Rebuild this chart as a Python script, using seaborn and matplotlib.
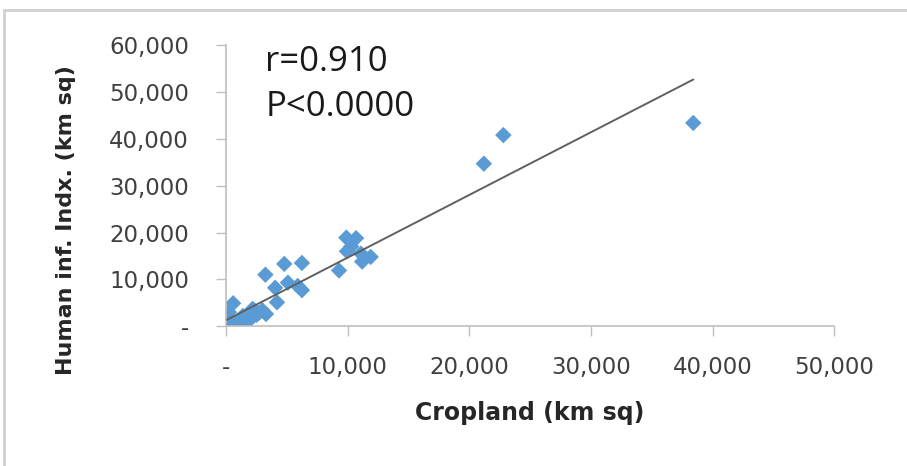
import matplotlib
matplotlib.use("Agg")
import matplotlib.pyplot as plt
import matplotlib.ticker as mticker
from matplotlib.patches import Rectangle
import seaborn as sns
import pandas as pd

# values
cropland = [38400, 22800, 21200, 9900, 10700, 10300, 9950, 11100, 11900, 11200,
            9300, 3250, 4800, 6250, 4050, 5100, 6250, 5900, 4200, 2500,
            3000, 2400, 1600, 1900, 800, 600, 250, 100, 1200, 1400,
            2000, 2700, 500, 900, 3300, 2200]
human_inf = [43400, 40800, 34700, 18900, 18800, 17000, 16000, 15500, 14800, 13800,
             11900, 11000, 13300, 13500, 8200, 9300, 7700, 8600, 5100, 2400,
             3400, 3200, 1700, 1300, 600, 4900, 3000, 800, 200, 2200,
             1500, 2800, 500, 1000, 2600, 3700]
x_ticks = [0, 10000, 20000, 30000, 40000, 50000]
y_ticks = [0, 10000, 20000, 30000, 40000, 50000, 60000]
stat_lines = ["r=0.910", "P<0.0000"]

df = pd.DataFrame({"Cropland": cropland, "Human": human_inf})

sns.set_style("white")
plt.rcParams['font.family'] = ['DejaVu Sans']

fig = plt.figure(figsize=(9.07, 4.66), dpi=100)
ax = fig.add_axes([0.249, 0.300, 0.671, 0.603])

sns.regplot(data=df, x="Cropland", y="Human", ax=ax, ci=None, truncate=True,
            marker="D",
            scatter_kws={"s": 70, "color": "#5b9bd5", "edgecolor": "none", "alpha": 1, "zorder": 2},
            line_kws={"color": "#606060", "lw": 1.4, "zorder": 3})

ax.set_xlim(0, 50000)
ax.set_ylim(0, 60000)
ax.set_xticks(x_ticks)
ax.set_yticks(y_ticks)
fmt = mticker.FuncFormatter(lambda v, p: "-" if v == 0 else f"{int(v):,}")
ax.xaxis.set_major_formatter(fmt)
ax.yaxis.set_major_formatter(fmt)

for side in ["top", "right"]:
    ax.spines[side].set_visible(False)
for side in ["left", "bottom"]:
    ax.spines[side].set_color("#bfbfbf")
    ax.spines[side].set_linewidth(1.2)
ax.tick_params(axis="both", direction="out", length=7.5, width=1, color="#bfbfbf",
               labelsize=16.5, labelcolor="#404040", bottom=True, left=True)
ax.tick_params(axis="x", pad=14)
ax.tick_params(axis="y", pad=19)

ax.set_xlabel("Cropland (km sq)", fontsize=17, fontweight="bold", labelpad=16, color="#262626")
ax.set_ylabel("Human inf. Indx. (km sq)", fontsize=16, fontweight="bold", color="#262626")
ax.yaxis.set_label_coords(-0.247, 0.377)

ax.text(0.065, 0.94, stat_lines[0], transform=ax.transAxes, fontsize=25,
        family=["Open Sans", "DejaVu Sans"], va="center", color="#1a1a1a")
ax.text(0.065, 0.78, stat_lines[1], transform=ax.transAxes, fontsize=25,
        family=["Open Sans", "DejaVu Sans"], va="center", color="#1a1a1a")

# outer chart frame
fig.patches.append(Rectangle((4 / 907, -0.05), 1.1, 1 - 10 / 466 + 0.05,
                             transform=fig.transFigure, fill=False,
                             edgecolor="#d0d0d0", lw=2))

fig.savefig("out.png", dpi=100)
